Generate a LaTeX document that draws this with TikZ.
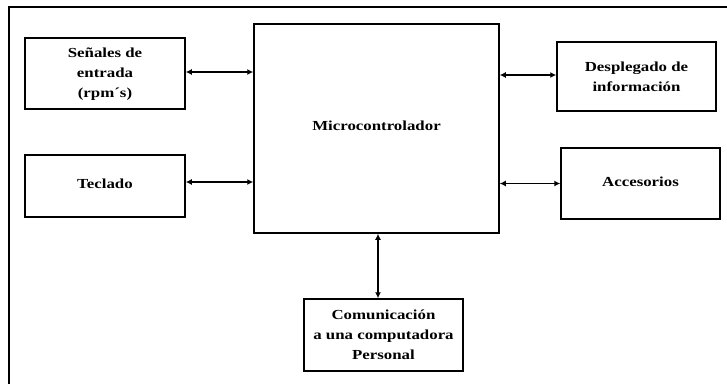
\documentclass[tikz,border=0pt]{standalone}
\usepackage{fontspec}
\setmainfont{Liberation Serif}[FakeStretch=1.22]
\usetikzlibrary{arrows.meta}
\begin{document}
\begin{tikzpicture}[x=1pt,y=-1pt,
  blk/.style={draw,line width=1.5pt,inner sep=0pt,align=center,
    font=\fontsize{13.8}{20}\selectfont\bfseries},
  link/.style={line width=1.6pt,{Latex[length=6pt,width=6pt]}-{Latex[length=6pt,width=6pt]}}]
\useasboundingbox (0,0) rectangle (727,384);
\fill[white] (0,0) rectangle (727,384);
\draw[line width=1.5pt] (727,7) -- (9,7) -- (9,384);
\node[blk,minimum width=160pt,minimum height=71pt] (sen) at (105,73.5) {\raisebox{2pt}{\begin{tabular}{@{}c@{}}Señales de\\entrada\\(rpm´s)\end{tabular}}};
\node[blk,minimum width=160pt,minimum height=62pt] (tec) at (105,186) {\raisebox{5pt}{Teclado}};
\node[blk,minimum width=245pt,minimum height=209pt] (mic) at (376.5,128.5) {\raisebox{5pt}{Microcontrolador}};
\node[blk,minimum width=159pt,minimum height=69pt] (des) at (636.5,76.5) {Desplegado de\\información};
\node[blk,minimum width=159pt,minimum height=71pt] (acc) at (640.5,183.5) {\raisebox{3pt}{Accesorios}};
\node[blk,minimum width=159pt,minimum height=72pt] (com) at (383.5,335) {Comunicación\\a una computadora\\Personal};
\draw[link] ([yshift=1.5pt]sen.east) -- ([yshift=1.5pt]sen.east -| mic.west);
\draw[link] ([yshift=4pt]tec.east) -- ([yshift=4pt]tec.east -| mic.west);
\draw[link] ([yshift=1.5pt]des.west) -- ([yshift=1.5pt]des.west -| mic.east);
\draw[link] (acc.west) -- (acc.west -| mic.east);
\draw[link] ([xshift=-5.5pt]com.north) -- ([xshift=-5.5pt]com.north |- mic.south);
\end{tikzpicture}
\end{document}
